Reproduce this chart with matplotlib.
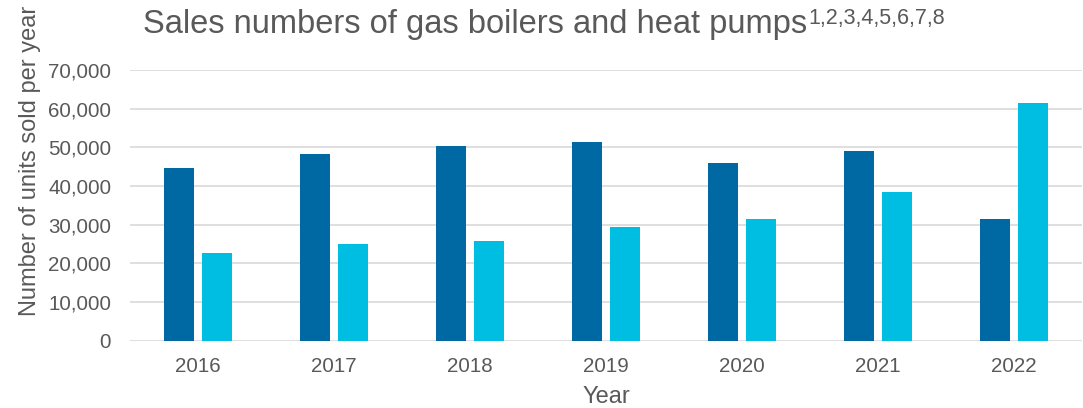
import numpy as np
import matplotlib
matplotlib.use("Agg")
import matplotlib.pyplot as plt
from matplotlib.ticker import FuncFormatter

years = ["2016", "2017", "2018", "2019", "2020", "2021", "2022"]
gas_boilers = [44700, 48400, 50400, 51400, 45900, 49000, 31500]
heat_pumps = [22800, 25000, 25800, 29400, 31600, 38500, 61600]

grey = "#595959"
dark_blue = "#0068A2"
light_blue = "#00BEE2"

plt.rcParams["font.family"] = ["Liberation Sans", "DejaVu Sans"]

fig = plt.figure(figsize=(10.83, 4.08), dpi=100)
ax = fig.add_axes([0.12, 0.165, 0.879, 0.663])

x = np.arange(len(years))
w = 0.22
off = 0.142
ax.bar(x - off, gas_boilers, width=w, color=dark_blue, zorder=3)
ax.bar(x + off, heat_pumps, width=w, color=light_blue, zorder=3)

ax.set_xlim(-0.5, len(years) - 0.5)
ax.set_ylim(0, 70000)
ax.set_yticks(np.arange(0, 70001, 10000))
ax.yaxis.set_major_formatter(FuncFormatter(lambda v, p: f"{int(v):,}"))
ax.set_xticks(x)
ax.set_xticklabels(years)
ax.grid(axis="y", color="#D9D9D9", linewidth=1.2, zorder=0)
for s in ax.spines.values():
    s.set_visible(False)
ax.tick_params(axis="both", length=0, labelsize=14.8, labelcolor=grey)
ax.tick_params(axis="y", pad=13.5)
ax.tick_params(axis="x", pad=12)

ax.set_xlabel("Year", fontsize=17, color=grey, labelpad=7)
fig.text(30 / 1083, 1 - 161 / 408, "Number of units sold per year", rotation=90,
         fontsize=17, color=grey, ha="center", va="center")

# title with footnote references as superscript
title = fig.text(143 / 1083, 1 - 33.5 / 408, "Sales numbers of gas boilers and heat pumps",
                 fontsize=23.5, color=grey, ha="left", va="baseline")
fig.canvas.draw()
bb = title.get_window_extent()
fig.text(bb.x1 / fig.bbox.width + 0.001, 1 - 24 / 408, "1,2,3,4,5,6,7,8",
         fontsize=15.5, color=grey, ha="left", va="baseline")

fig.savefig("out.png", dpi=100, facecolor="white")
